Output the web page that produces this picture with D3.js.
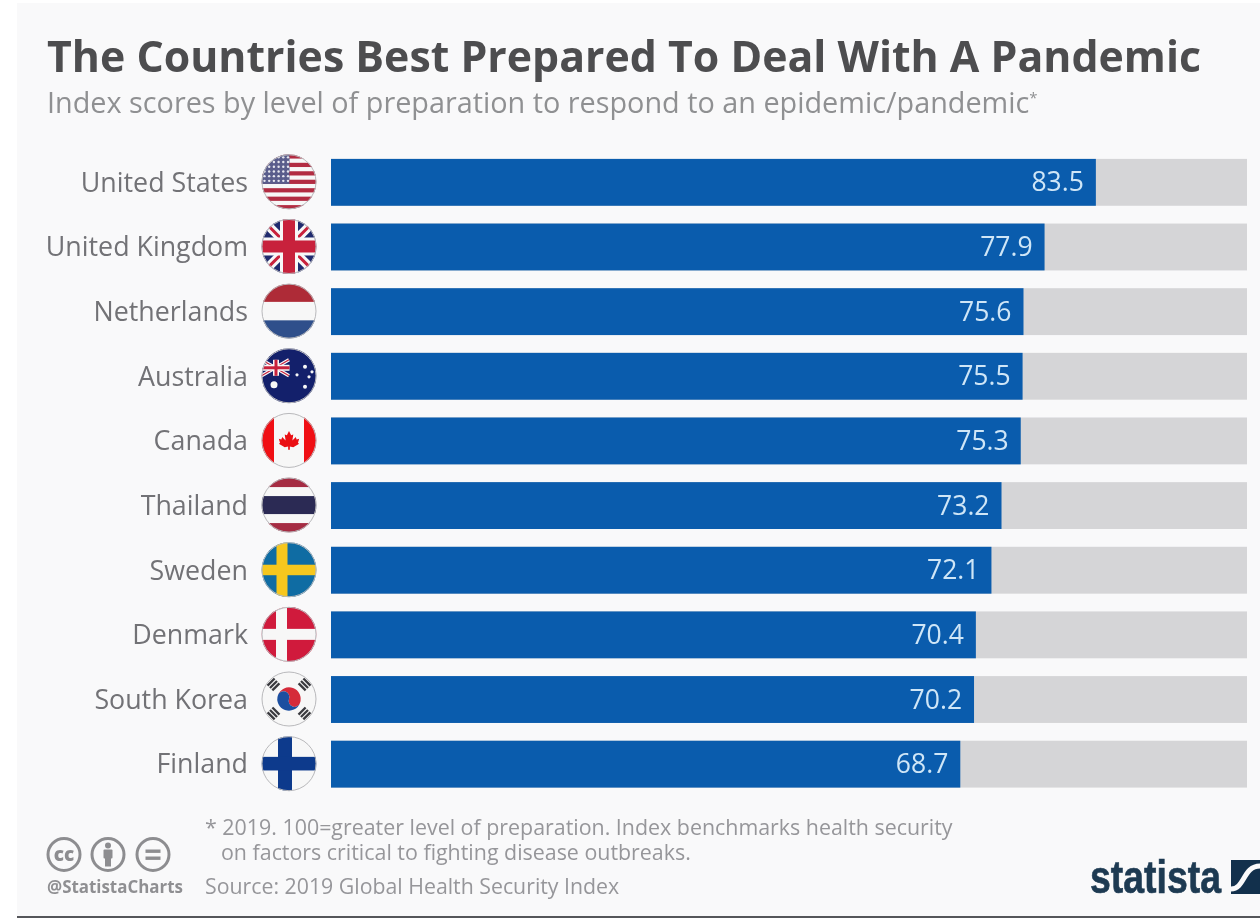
<!DOCTYPE html>
<html><head><meta charset="utf-8">
<script src="https://cdnjs.cloudflare.com/ajax/libs/d3/7.8.5/d3.min.js"></script>
<style>html,body{margin:0;padding:0;background:#fff}svg{display:block;filter:blur(0.45px)}text{font-family:"Open Sans",sans-serif}</style>
</head><body><svg id="c" width="1260" height="918"></svg>
<script>
const countries=["United States","United Kingdom","Netherlands","Australia","Canada","Thailand","Sweden","Denmark","South Korea","Finland"];
const scores=[83.5,77.9,75.6,75.5,75.3,73.2,72.1,70.4,70.2,68.7];
const flagCodes=["us","uk","nl","au","ca","th","se","dk","kr","fi"];
const domainMax=100;
const svg=d3.select("#c");
const defs=svg.append("defs");
svg.append("rect").attr("x",17).attr("y",3).attr("width",1243).attr("height",913).attr("fill","#f9f9fa");
svg.append("rect").attr("x",17).attr("y",916).attr("width",1243).attr("height",2).attr("fill","#55565a");
const x=d3.scaleLinear().domain([0,domainMax]).range([331,1247]);
const y=d3.scaleBand().domain(countries).range([150.5,796]).paddingInner(0.275).paddingOuter(0.13);
const T=(t,px,py,size,fill,anchor,weight)=>svg.append("text").attr("x",px).attr("y",py).attr("font-size",size).attr("fill",fill).attr("text-anchor",anchor||"start").attr("font-weight",weight||400).text(t);
T("The Countries Best Prepared To Deal With A Pandemic",47,72,42.83,"#4d4d4f","start",700);
const sub=T("Index scores by level of preparation to respond to an epidemic/pandemic",47,113,28.8,"#8f9092");
sub.append("tspan").attr("font-size",15).attr("dy",-10).text("*");
svg.selectAll(".bg").data(countries).join("rect").attr("x",x(0)).attr("y",d=>y(d)).attr("width",x(domainMax)-x(0)).attr("height",y.bandwidth()).attr("fill","#d5d5d7");
svg.selectAll(".bar").data(scores).join("rect").attr("x",x(0)).attr("y",(d,i)=>y(countries[i])).attr("width",d=>x(d)-x(0)).attr("height",y.bandwidth()).attr("fill","#0a5cad");
svg.selectAll(".val").data(scores).join("text").attr("x",d=>x(d)-12).attr("y",(d,i)=>y(countries[i])+y.bandwidth()/2+9).attr("text-anchor","end").attr("font-size",26.5).attr("fill","#cfe6f7").text(d=>d.toFixed(1));
svg.selectAll(".lab").data(countries).join("text").attr("x",248).attr("y",d=>y(d)+y.bandwidth()/2+9.3).attr("text-anchor","end").attr("font-size",26.8).attr("fill","#727276").text(d=>d);
const R=27.5;
function flag(g,code,id){
 const cp=defs.append("clipPath").attr("id","cp"+id);cp.append("circle").attr("r",R);
 const f=g.append("g").attr("clip-path",`url(#cp${id})`);
 const r=(a,b,w,h,c)=>f.append("rect").attr("x",a).attr("y",b).attr("width",w).attr("height",h).attr("fill",c);
 const line=(p,c,w)=>f.append("path").attr("d",p).attr("stroke",c).attr("stroke-width",w).attr("fill","none");
 const W="#f7f7f7";
 if(code==="us"){r(-R,-R,2*R,2*R,W);d3.range(7).forEach(i=>r(-R,-R+i*8.46,2*R,4.23,"#b22c42"));r(-R,-R,28,29.6,"#5a5d8c");
  d3.range(6).forEach(a=>d3.range(6).forEach(b=>f.append("circle").attr("cx",-R+3+a*4.7).attr("cy",-R+3+b*4.7).attr("r",1.2).attr("fill","#e6e6ee")));}
 if(code==="uk"){r(-R,-R,2*R,2*R,"#1f2a6e");line(`M${-R},${-R}L${R},${R}M${-R},${R}L${R},${-R}`,W,9);line(`M${-R},${-R}L${R},${R}M${-R},${R}L${R},${-R}`,"#c8213c",3);r(-9,-R,18,2*R,W);r(-R,-9,2*R,18,W);r(-6,-R,12,2*R,"#c8213c");r(-R,-6,2*R,12,"#c8213c");}
 if(code==="nl"){r(-R,-R,2*R,18.3,"#ae2b37");r(-R,-9.2,2*R,18.4,W);r(-R,9.2,2*R,18.3,"#2f4f8b");}
 if(code==="au"){r(-R,-R,2*R,2*R,"#13206b");line(`M${-R},-16L0,0M${-R},0L0,-16`,W,3.5);line(`M${-R},-16L0,0M${-R},0L0,-16`,"#c8213c",1.2);r(-16,-16,6,16,W);r(-R,-11,28,6,W);r(-14.5,-16,3,16,"#c8213c");r(-R,-9.5,28,3,"#c8213c");
  [[-15,9,3.5],[16,-9,2],[8,-1,1.6],[23,-4,1.6],[20,1,1.6],[16,11,2]].forEach(s=>f.append("circle").attr("cx",s[0]).attr("cy",s[1]).attr("r",s[2]).attr("fill",W));}
 if(code==="ca"){r(-R,-R,2*R,2*R,W);r(-R,-R,12.5,2*R,"#f00f14");r(R-12.5,-R,12.5,2*R,"#f00f14");
  f.append("path").attr("d","M0,-11L2.5,-6L5,-7L4,0L8,-4L9,-1L12,-2L10.5,3L12,4L5,8L1,7V11H-1V7L-5,8L-12,4L-10.5,3L-12,-2L-9,-1L-8,-4L-4,0L-5,-7L-2.5,-6Z").attr("fill","#ea0f14").attr("transform","scale(0.85)");}
 if(code==="th"){r(-R,-R,2*R,2*R,W);r(-R,-R,2*R,9.5,"#a52c43");r(-R,R-9.5,2*R,9.5,"#a52c43");r(-R,-9,2*R,18,"#2b2a54");}
 if(code==="se"){r(-R,-R,2*R,2*R,"#0f6ca3");r(-12.5,-R,11,2*R,"#f6c71e");r(-R,-5,2*R,10.5,"#f6c71e");}
 if(code==="dk"){r(-R,-R,2*R,2*R,"#d01a3c");r(-13,-R,11,2*R,W);r(-R,-5.5,2*R,11,W);}
 if(code==="kr"){r(-R,-R,2*R,2*R,W);
  f.append("path").attr("d","M-11.7,0A11.7,11.7 0 0 1 11.7,0A5.85,5.85 0 0 1 0,0A5.85,5.85 0 0 0 -11.7,0Z").attr("fill","#d52b3a").attr("transform","rotate(20)");
  f.append("path").attr("d","M-11.7,0A11.7,11.7 0 0 0 11.7,0A5.85,5.85 0 0 1 0,0A5.85,5.85 0 0 0 -11.7,0Z").attr("fill","#1c4fa0").attr("transform","rotate(20)");
  [[-15.5,-14.5,-45],[15.5,-14.5,45],[-15.5,14.5,45],[15.5,14.5,-45]].forEach(s=>{const t=f.append("g").attr("transform",`translate(${s[0]},${s[1]}) rotate(${s[2]})`);[-3.4,0,3.4].forEach(d=>t.append("rect").attr("x",-5).attr("y",d-1.2).attr("width",10).attr("height",2.3).attr("fill","#3a3a3f"));});}
 if(code==="fi"){r(-R,-R,2*R,2*R,W);r(-11,-R,14,2*R,"#0d3a8c");r(-R,-6.8,2*R,13.6,"#0d3a8c");}
 g.append("circle").attr("r",R-0.5).attr("fill","none").attr("stroke","#b9b9bc").attr("stroke-width",1);
}
const fl=svg.selectAll(".flag").data(flagCodes).join("g").attr("transform",(d,i)=>`translate(289,${y(countries[i])+y.bandwidth()/2-0.5})`);
fl.each(function(d,i){flag(d3.select(this),d,i);});
const note=T("* 2019. 100=greater level of preparation. Index benchmarks health security",205,835,21.4,"#96969a");
note.append("tspan").attr("x",221).attr("dy",25).text("on factors critical to fighting disease outbreaks.");
T("Source: 2019 Global Health Security Index",205,894,21.3,"#96969a");
T("@StatistaCharts",47,893,16.9,"#8f8f92","start",700);
function cc(cx,draw){const g=svg.append("g").attr("transform",`translate(${cx},854.5)`).attr("fill","#8d8d90");g.append("circle").attr("r",16).attr("fill","#f9f9fa").attr("stroke","#8d8d90").attr("stroke-width",3);draw(g);}
cc(64,g=>g.append("text").attr("y",6.5).attr("text-anchor","middle").attr("font-size",19).attr("font-weight",800).text("cc"));
cc(108,g=>{g.append("circle").attr("cy",-9).attr("r",3);g.append("rect").attr("x",-4.5).attr("y",-5).attr("width",9).attr("height",9).attr("rx",1);g.append("rect").attr("x",-3).attr("y",3).attr("width",6).attr("height",9);});
cc(153,g=>{g.append("rect").attr("x",-7.5).attr("y",-5).attr("width",15).attr("height",3.4);g.append("rect").attr("x",-7.5).attr("y",2).attr("width",15).attr("height",3.4);});
T("statista",1090,893,47,"#1d3a52","start",700).attr("stroke","#1d3a52").attr("stroke-width",0.7).attr("textLength",131).attr("lengthAdjust","spacingAndGlyphs").style("font-family","'Liberation Sans Narrow','Liberation Sans',sans-serif");
svg.append("rect").attr("x",1231).attr("y",860).attr("width",29).attr("height",34).attr("fill","#12304c");
svg.append("path").attr("d","M1231,889C1245,889 1243,866 1260,866").attr("stroke","#f9f9fa").attr("stroke-width",5).attr("fill","none");
</script></body></html>
